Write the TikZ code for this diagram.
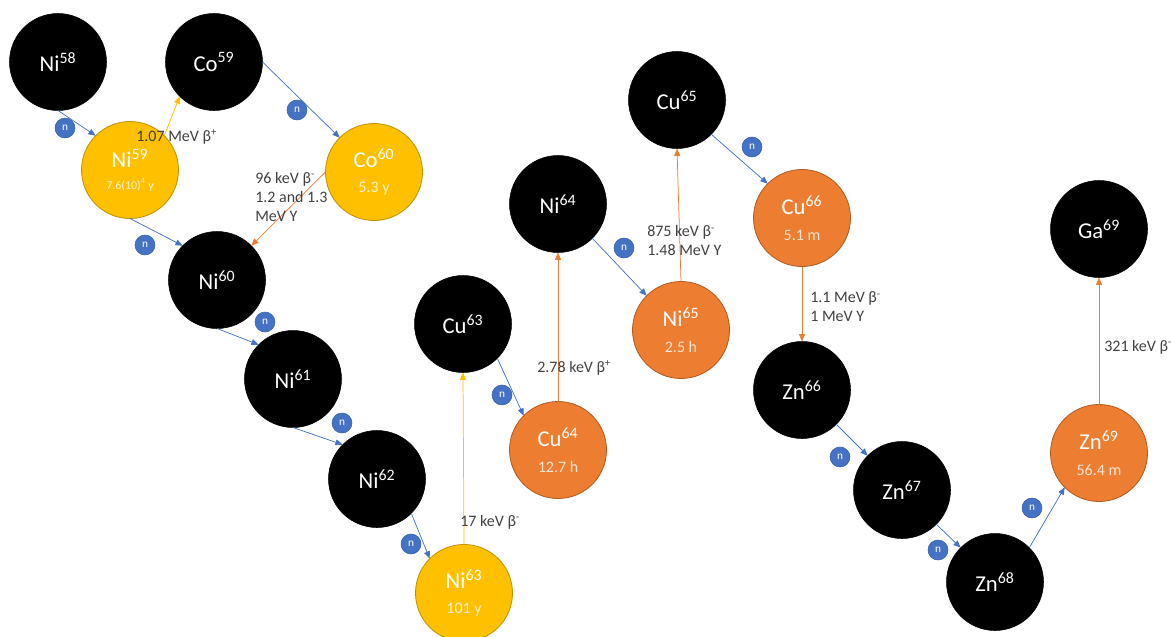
\documentclass[tikz,border=0pt]{standalone}
\usepackage{fontspec}
\setmainfont{Carlito}
\usetikzlibrary{arrows.meta}
\definecolor{nblue}{HTML}{4472C4}
\definecolor{nyel}{HTML}{FFC000}
\definecolor{nyelb}{HTML}{BF9000}
\definecolor{norg}{HTML}{ED7D31}
\definecolor{norgb}{HTML}{AE5A21}
\definecolor{lbl}{HTML}{404040}
\definecolor{yeltxt}{HTML}{FFF2CC}
\definecolor{orgtxt}{HTML}{FBE5D6}
\newcommand{\halflife}[2]{{\fontsize{12}{14}\selectfont\color{#1}#2}}
\begin{document}
\begin{tikzpicture}[x=0.75pt,y=-0.75pt,
  iso/.style={circle,minimum size=72.75pt,inner sep=0pt,outer sep=0pt,text=white,
    font=\fontsize{17}{19}\selectfont,align=center},
  stable/.style={iso,fill=black,draw=black},
  yel/.style={iso,fill=nyel,draw=nyelb,line width=0.6pt},
  org/.style={iso,fill=norg,draw=norgb,line width=0.6pt},
  neut/.style={circle,fill=nblue,draw=nblue!85!black,line width=0.4pt,minimum size=15pt,
    inner sep=0pt,text=white,font=\fontsize{8.5}{9}\selectfont},
  lbltxt/.style={text=lbl,font=\fontsize{12}{14.25}\selectfont,align=left,anchor=west,inner sep=0pt},
  tipstyle/.style={-{Triangle[length=5.5pt,width=4.5pt]}},
  narr/.style={draw=nblue,line width=0.55pt,tipstyle},
  yarr/.style={draw=nyel,line width=0.55pt,tipstyle},
  oarr/.style={draw=norg,line width=0.55pt,tipstyle}]
\useasboundingbox (0,0) rectangle (1171,636);

% isotopes
\node[stable] (ni58) at (58,62) {Ni\textsuperscript{58}};
\node[stable] (co59) at (214,62) {Co\textsuperscript{59}};
\node[yel] (ni59) at (130,170) {Ni\textsuperscript{59}\\[-3pt]{\fontsize{9}{10}\selectfont\color{yeltxt}7.6(10)\textsuperscript{4} y}};
\node[yel] (co60) at (374,172) {Co\textsuperscript{60}\\\halflife{yeltxt}{5.3 y}};
\node[stable] (ni60) at (217,280) {Ni\textsuperscript{60}};
\node[stable] (ni61) at (293,379) {Ni\textsuperscript{61}};
\node[stable] (ni62) at (377,479) {Ni\textsuperscript{62}};
\node[yel] (ni63) at (464,593) {Ni\textsuperscript{63}\\\halflife{yeltxt}{101 y}};
\node[stable] (cu63) at (463,324) {Cu\textsuperscript{63}};
\node[org] (cu64) at (558,450) {Cu\textsuperscript{64}\\\halflife{orgtxt}{12.7 h}};
\node[stable] (ni64) at (558,204) {Ni\textsuperscript{64}};
\node[org] (ni65) at (681,330) {Ni\textsuperscript{65}\\\halflife{orgtxt}{2.5 h}};
\node[stable] (cu65) at (677,100) {Cu\textsuperscript{65}};
\node[org] (cu66) at (802,218) {Cu\textsuperscript{66}\\\halflife{orgtxt}{5.1 m}};
\node[stable] (zn66) at (802,390) {Zn\textsuperscript{66}};
\node[stable] (zn67) at (902,490) {Zn\textsuperscript{67}};
\node[stable] (zn68) at (995,582) {Zn\textsuperscript{68}};
\node[org] (zn69) at (1099,453) {Zn\textsuperscript{69}\\\halflife{orgtxt}{56.4 m}};
\node[stable] (ga69) at (1099,229) {Ga\textsuperscript{69}};

% neutron captures
\draw[narr] (ni58.south) -- (ni59.north west);
\draw[narr] (co59.east) -- (co60.north west);
\draw[narr] (ni59.south) -- (ni60.north west);
\draw[narr] (ni60.south) -- (ni61.north west);
\draw[narr] (ni61.south) -- (ni62.north west);
\draw[narr] (ni62.south east) -- (ni63.north west);
\draw[narr] (cu63.south east) -- (cu64.north west);
\draw[narr] (ni64.south east) -- (ni65.north west);
\draw[narr] (cu65.south east) -- (cu66.north west);
\draw[narr] (zn66.south east) -- (zn67.north west);
\draw[narr] (zn67.south east) -- (zn68.north west);
\draw[narr] (zn68.north east) -- (zn69.south west);

% decays
\draw[yarr] (ni59.north east) -- (co59.south west);
\draw[oarr] (co60.west) -- (ni60.north east);
\draw[yarr] (ni63.north) -- (cu63.south);
\draw[oarr] (cu64.north) -- (ni64.south);
\draw[oarr] (ni65.north) -- (cu65.south);
\draw[oarr] (cu66.south) -- (zn66.north);
\draw[oarr] (zn69.north) -- (ga69.south);

% neutron markers
\node[neut] (n1) at (65,128) {n};
\node[neut] (n2) at (297,110) {n};
\node[neut] (n3) at (145,245) {n};
\node[neut] (n4) at (265,322) {n};
\node[neut] (n5) at (342,423) {n};
\node[neut] (n6) at (411,544) {n};
\node[neut] (n7) at (502,395) {n};
\node[neut] (n8) at (624,248) {n};
\node[neut] (n9) at (752,147) {n};
\node[neut] (n10) at (840,457) {n};
\node[neut] (n11) at (938,550) {n};
\node[neut] (n12) at (1032,508) {n};

% decay labels
\node[lbltxt] (l1) at (136,137) {1.07 MeV β\textsuperscript{+}};
\node[lbltxt] (l2) at (255,197) {96 keV β\textsuperscript{-}\\1.2 and 1.3\\MeV Y};
\node[lbltxt] (l3) at (460,522) {17 keV β\textsuperscript{-}};
\node[lbltxt] (l4) at (537,368) {2.78 keV β\textsuperscript{+}};
\node[lbltxt] (l5) at (647,241) {875 keV β\textsuperscript{-}\\1.48 MeV Y};
\node[lbltxt] (l6) at (810,307) {1.1 MeV β\textsuperscript{-}\\1 MeV Y};
\node[lbltxt] (l7) at (1104,347) {321 keV β\textsuperscript{-}};
\end{tikzpicture}
\end{document}
